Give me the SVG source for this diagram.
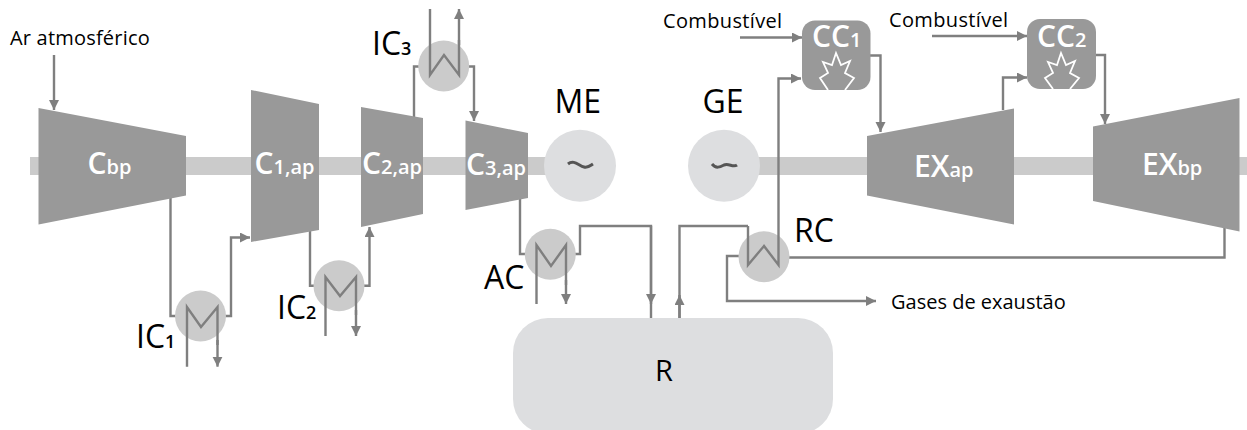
<svg xmlns="http://www.w3.org/2000/svg" width="1247" height="430" viewBox="0 0 1247 430">
<style>
text{font-family:"Open Sans","Noto Sans","DejaVu Sans",sans-serif;fill:#000}
.t{fill:#999}
.c{fill:#cbcbcb}
.l{fill:#dddee0}
.w{fill:none;stroke:#7f7f7f;stroke-width:2.4;stroke-linejoin:miter}
.e{fill:none;stroke:#7f7f7f;stroke-width:2.4}
.a{marker-end:url(#ah)}
.n{fill:#fff;font-weight:600;font-size:30px}
.n tspan{font-size:20px}
.s{font-size:20px}
.f{letter-spacing:.35px}
.b{font-size:32px}
.b tspan{font-size:18px;font-weight:600}
.st{fill:none;stroke:#fff;stroke-width:1.8}
.tilde{fill:none;stroke:#555;stroke-width:3}
</style>
<defs>
<marker id="ah" markerUnits="userSpaceOnUse" markerWidth="12" markerHeight="12" refX="10" refY="5" orient="auto"><path d="M0 0L10 5L0 10z" fill="#7f7f7f"/></marker>
</defs>
<rect id="shaft-left" class="c" x="30" y="157" width="520" height="18"/>
<rect id="shaft-right" class="c" x="720" y="157" width="527" height="18"/>
<g id="connectors">
<path class="e a" d="M54 55V110"/>
<path class="e" d="M170.500 196V316H177"/>
<path class="e a" d="M225 316H231V237.500H250"/>
<path class="e" d="M310 229V285.700H315"/>
<path class="e a" d="M363 285.700H369.500V227"/>
<path class="e" d="M414 118V66.500H420"/>
<path class="e a" d="M468 66.500H474V121"/>
<path class="e" d="M520 197V254H526"/>
<path class="e" d="M575 254H580V226H651V318"/>
<path class="e a" d="M651 226V304"/>
<path class="e" d="M679.500 318V226H748"/>
<path class="e a" d="M679.500 318V295"/>
<path class="e a" d="M739 256H727V301H876"/>
<path class="e" d="M789 257.500H1224.500V228"/>
<path class="e a" d="M778.500 215V78.500H801"/>
<path class="e a" d="M740 37.500H802"/>
<path class="e a" d="M932 36H1027"/>
<path class="e a" d="M870 55.500H880.500V132"/>
<path class="e a" d="M1096 55H1105V124"/>
<path class="e a" d="M1003 110V77.500H1027"/>
</g>
<g id="Cbp"><path class="t" d="M38.500 108L186 136V195.500L38.500 224.500z"/><text class="n" x="87.500" y="174">C<tspan>bp</tspan></text></g>
<g id="C1ap"><path class="t" d="M251 90L319 104V230L251 242z"/><text class="n" x="254.500" y="174">C<tspan>1,ap</tspan></text></g>
<g id="C2ap"><path class="t" d="M361 107L423 118V214L361 227z"/><text class="n" x="362" y="174">C<tspan>2,ap</tspan></text></g>
<g id="C3ap"><path class="t" d="M465.500 120.500L528 133V198L465.500 210z"/><text class="n" x="466" y="175">C<tspan>3,ap</tspan></text></g>
<g id="EXap"><path class="t" d="M867 136L1014 108.500V224.500L867 195.500z"/><text class="n" x="914" y="176.500">EX<tspan>ap</tspan></text></g>
<g id="EXbp"><path class="t" d="M1093 126.500L1239.500 98V231.500L1093 201z"/><text class="n" x="1142" y="175">EX<tspan>bp</tspan></text></g>
<g id="ME"><circle class="l" cx="580" cy="165.700" r="36"/><path class="tilde" d="M568 164C574 159 579 166 584 167C588 168 590 166 593 164"/><text class="b" x="554.500" y="112.500">ME</text></g>
<g id="GE"><circle class="l" cx="724" cy="165.700" r="36"/><path class="tilde" d="M712 164C716 169 720 167 724 165C729 163 733 168 737 165"/><text class="b" x="702.500" y="113">GE</text></g>
<g id="IC1"><circle class="c" cx="200.500" cy="316" r="25.500"/><path class="w" d="M187 366.700V307L201 327L217.500 307V345"/><path class="e a" d="M217.500 340V366.700"/><text class="b" x="136" y="348">IC<tspan>1</tspan></text></g>
<g id="IC2"><circle class="c" cx="339" cy="285.700" r="25.500"/><path class="w" d="M325.500 336V277L340 296L356 277V315"/><path class="e a" d="M356 310V336"/><text class="b" x="277" y="319">IC<tspan>2</tspan></text></g>
<g id="IC3"><circle class="c" cx="443.700" cy="66" r="25.500"/><path class="w" d="M430 9V75L444 55L459 75V40"/><path class="e a" d="M459 45V9"/><text class="b" x="372" y="55">IC<tspan>3</tspan></text></g>
<g id="AC"><circle class="c" cx="550.300" cy="254.300" r="25.500"/><path class="w" d="M536.500 304V245L551 266L566 245V285"/><path class="e a" d="M566 280V304"/><text class="b" x="484" y="289">AC</text></g>
<g id="RC"><circle class="c" cx="764" cy="256.700" r="25.500"/><path class="w" d="M748 226V265L764 246L778.500 265V215"/><text class="b" x="794" y="242">RC</text></g>
<g id="R"><rect class="l" x="513" y="318" width="320" height="116" rx="35"/><text class="b" x="655" y="381" style="font-size:29px">R</text></g>
<g id="CC1"><rect class="t" x="802" y="20.500" width="68.500" height="69.500" rx="13"/><path class="st" d="M828 90L820 78L828 73L823 62L832 65L836 53L841 65L850 61L845 73L854 78L845 90"/><text class="n" x="812" y="47">CC<tspan>1</tspan></text></g>
<g id="CC2"><rect class="t" x="1027" y="19" width="69" height="70" rx="13"/><path class="st" d="M1053 89L1045 78L1053 73L1048 62L1057 65L1061 53L1066 65L1075 61L1070 73L1079 78L1070 89"/><text class="n" x="1037" y="47">CC<tspan>2</tspan></text></g>
<g id="labels">
<text class="s" x="10" y="44.500" style="letter-spacing:.2px">Ar atmosférico</text>
<text class="s f" x="663" y="28">Combustível</text>
<text class="s f" x="889" y="27">Combustível</text>
<text class="s" x="891" y="309">Gases de exaustão</text>
</g>
</svg>
